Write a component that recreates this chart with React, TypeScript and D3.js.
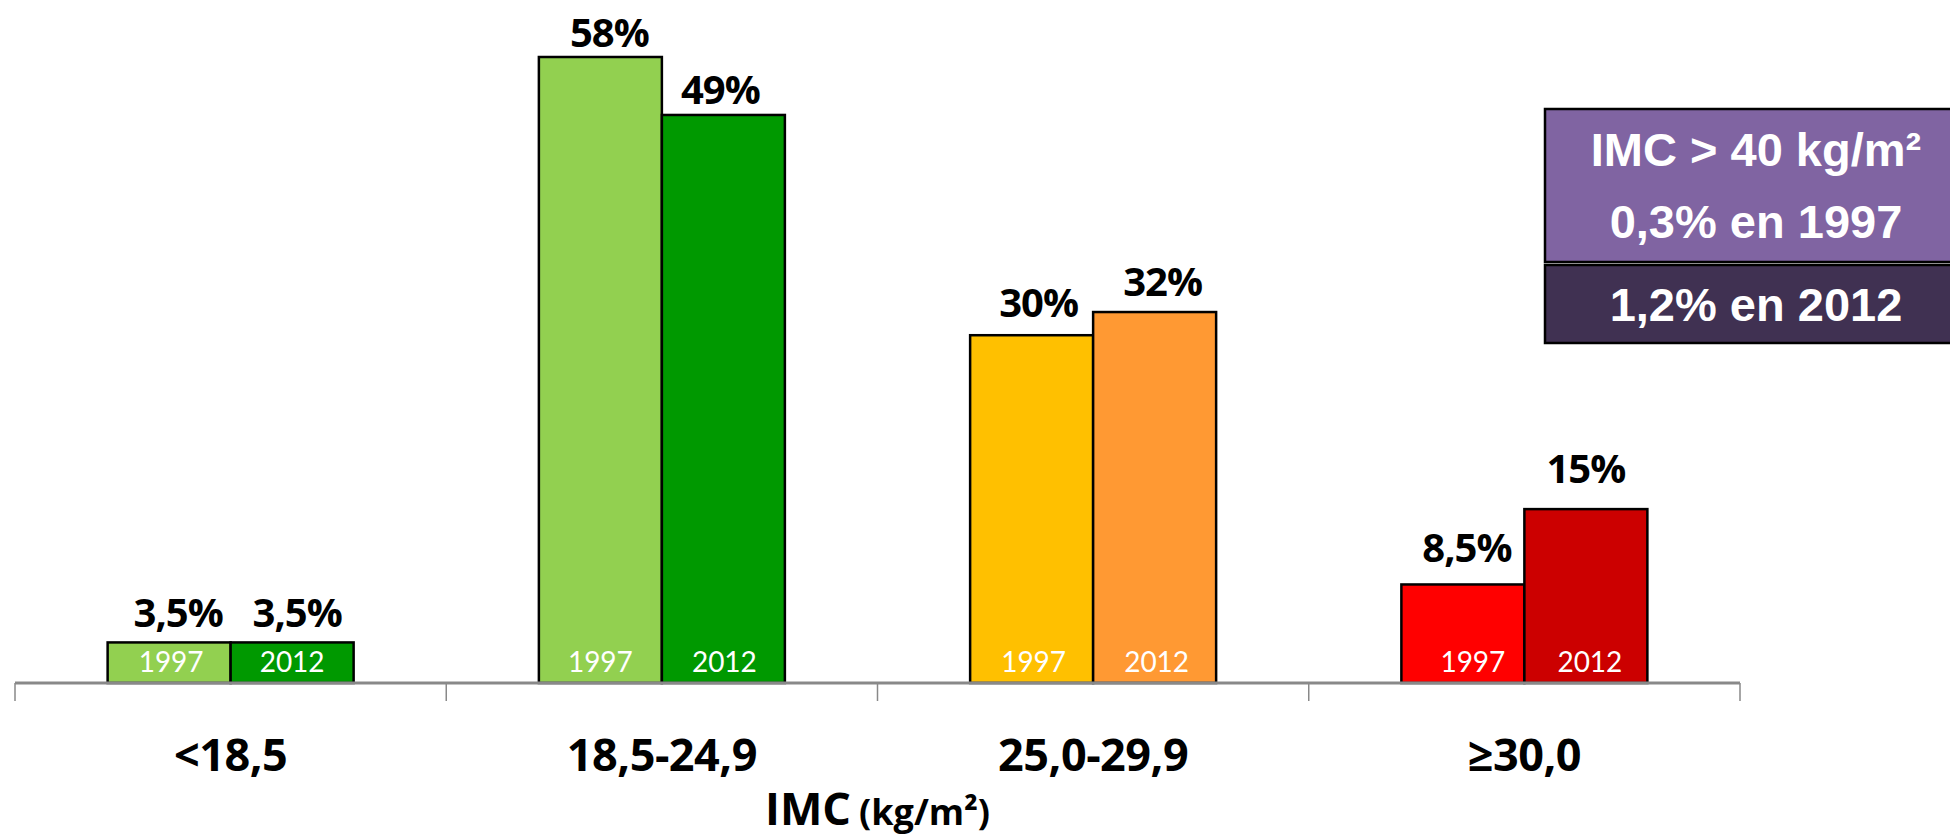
import React from "react";
import * as d3 from "d3";

const categories = ["<18,5", "18,5-24,9", "25,0-29,9", "≥30,0"];
const years = ["1997", "2012"];
const values1997 = [3.5, 58, 30, 8.5];
const values2012 = [3.5, 49, 32, 15];
const labels1997 = ["3,5%", "58%", "30%", "8,5%"];
const labels2012 = ["3,5%", "49%", "32%", "15%"];
const boxLines = ["IMC > 40 kg/m²", "0,3% en 1997", "1,2% en 2012"];
const axisTitle = "IMC";
const axisUnit = "(kg/m²)";

// styling
const colors1997 = ["#92D050", "#92D050", "#FFC000", "#FF0000"];
const colors2012 = ["#009900", "#009900", "#FF9933", "#CC0000"];
// label nudges [dx, gap above bar]
const nudge1997 = [[9, 15], [9, 10], [7, 18], [4, 22]];
const nudge2012 = [[5, 15], [-3, 11], [8, 16], [0, 26]];
const yearNudge1997 = [2, 0, 2, 10];
const yearNudge2012 = [0, 1, 2, 4];

const W = 1950;
const H = 840;
const baseY = 683;
const FONT = "'Open Sans', Lato, sans-serif";
const FONT_REG = "Lato, 'Open Sans', sans-serif";
const ARIAL = "'Liberation Sans', Arial, sans-serif";

export default function App() {
  const x = d3.scaleBand<string>().domain(categories).range([15, 1740]).padding(0);
  const y = d3.scaleLinear().domain([0, 54]).range([baseY, 57]).clamp(true);
  const groupW = 246;
  const inner = d3.scaleBand<string>().domain(years).range([0, groupW]).padding(0);
  const tickXs = categories.map((c) => x(c)!).concat([x(categories[categories.length - 1])! + x.bandwidth()]);

  const series = [
    { year: years[0], values: values1997, labels: labels1997, colors: colors1997, nudge: nudge1997, yn: yearNudge1997 },
    { year: years[1], values: values2012, labels: labels2012, colors: colors2012, nudge: nudge2012, yn: yearNudge2012 },
  ];

  return (
    <svg width={W} height={H} style={{ position: "absolute", left: 0, top: 0, background: "#fff" }}>
      {series.map((s) =>
        categories.map((c, i) => {
          const bx = x(c)! + x.bandwidth() / 2 - groupW / 2 + inner(s.year)!;
          const bw = inner.bandwidth();
          const top = y(s.values[i]);
          return (
            <g key={s.year + c}>
              <rect x={bx} y={top} width={bw} height={baseY - top} fill={s.colors[i]} stroke="#000" strokeWidth={2.5} />
              <text x={bx + bw / 2 + s.nudge[i][0]} y={top - s.nudge[i][1]} textAnchor="middle" fontFamily={FONT} fontWeight={700} fontSize={40} letterSpacing={-1} fill="#000">
                {s.labels[i]}
              </text>
              <text x={bx + bw / 2 + s.yn[i]} y={baseY - 11} textAnchor="middle" fontFamily={FONT_REG} fontWeight={400} fontSize={28} fill="#fff">
                {s.year}
              </text>
            </g>
          );
        })
      )}
      <line x1={15} x2={1740} y1={baseY} y2={baseY} stroke="#898989" strokeWidth={3} />
      {tickXs.map((tx, i) => (
        <line key={i} x1={tx} x2={tx} y1={baseY} y2={baseY + 18} stroke="#898989" strokeWidth={1.5} />
      ))}
      {categories.map((c) => (
        <text key={c} x={x(c)! + x.bandwidth() / 2} y={771} textAnchor="middle" fontFamily={FONT} fontWeight={700} fontSize={45} letterSpacing={-0.5} fill="#000">
          {c}
        </text>
      ))}
      <text x={(15 + 1740) / 2} y={825} textAnchor="middle" fontFamily={FONT} fontWeight={700} fill="#000">
        <tspan fontSize={45}>{axisTitle}</tspan>
        <tspan fontSize={36} dx={8}>{axisUnit}</tspan>
      </text>
      <g>
        <rect x={1545} y={109} width={422} height={153} fill="#8064A2" stroke="#000" strokeWidth={2.5} />
        <rect x={1545} y={265} width={422} height={78} fill="#403152" stroke="#000" strokeWidth={2.5} />
        <text x={1756} y={166} textAnchor="middle" fontFamily={ARIAL} fontWeight={700} fontSize={47} fill="#fff">{boxLines[0]}</text>
        <text x={1756} y={238} textAnchor="middle" fontFamily={ARIAL} fontWeight={700} fontSize={47} fill="#fff">{boxLines[1]}</text>
        <text x={1756} y={321} textAnchor="middle" fontFamily={ARIAL} fontWeight={700} fontSize={47} fill="#fff">{boxLines[2]}</text>
      </g>
    </svg>
  );
}
